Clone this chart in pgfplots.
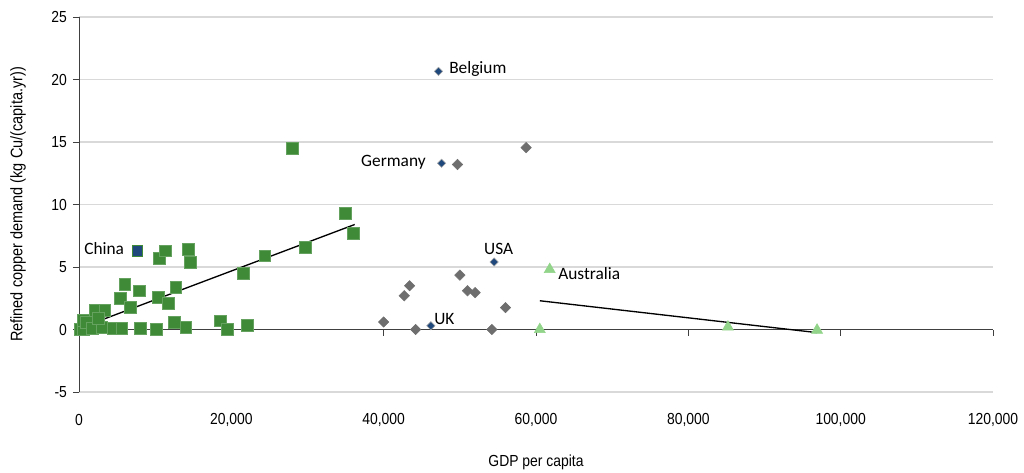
\documentclass[border=0pt]{standalone}
\usepackage{pgfplots}
\pgfplotsset{compat=1.18}
\usepackage{fontspec}
\setmainfont{Liberation Sans}[FakeStretch=0.87]
\newfontfamily\labfont{Carlito}
\definecolor{sqgreen}{RGB}{62,138,55}
\definecolor{dblue}{RGB}{31,73,125}
\definecolor{dgray}{RGB}{110,110,110}
\definecolor{lgreen}{RGB}{146,212,138}
\definecolor{gridc}{RGB}{217,217,217}
\definecolor{axc}{RGB}{64,64,64}
\begin{document}
\begin{tikzpicture}
\useasboundingbox (-59.25pt,-60pt) rectangle (708.75pt,294pt);
\begin{axis}[
  at={(0,0)}, anchor=south west,
  scale only axis, width=685.5pt, height=281.25pt,
  xmin=0, xmax=120000, ymin=-5, ymax=25,
  axis y line=left, axis x line=middle,
  axis line style={-, draw=axc, line width=0.6pt},
  hide obscured x ticks=false, hide obscured y ticks=false,
  xtick={0,20000,...,120000}, ytick={-5,0,...,25},
  scaled x ticks=false,
  x tick label style={/pgf/number format/1000 sep={,}, /pgf/number format/fixed},
  /pgf/number format/assume math mode=true,
  tick label style={font=\fontsize{12}{14}\selectfont},
  xticklabel style={anchor=center, yshift=-63pt},
  yticklabel style={anchor=east, xshift=-1pt},
  tick style={draw=axc, line width=0.6pt},
  ymajorgrids, grid style={gridc, line width=0.8pt},
  major tick length=4.5pt,
  tick align=outside,
  xlabel={GDP per capita},
  ylabel={Refined copper demand (kg Cu/(capita.yr))},
  every axis x label/.style={at={(axis description cs:0.5,-0.1867)}, anchor=center, font=\fontsize{12}{14}\selectfont},
  every axis y label/.style={at={(axis description cs:-0.0667,0.5)}, rotate=90, anchor=center, font=\fontsize{12.5}{14}\selectfont},
  clip=false,
]
% green squares
\addplot[only marks, mark=square*, mark size=4.4pt, mark options={fill=sqgreen, draw=sqgreen!80!white}] coordinates {
(100,0) (570,0) (600,0.75) (1000,0.6) (1700,0.1) (2100,1.55) (3000,0.2)
(3400,1.55) (2500,0.9) (4500,0.1) (5600,0.1) (5400,2.5) (6000,3.6)
(6700,1.8) (7900,3.1) (8000,0.1) (10100,0) (10400,2.6) (10500,5.7)
(11300,6.3) (11700,2.1) (12500,0.6) (12700,3.4) (14000,0.2) (14300,6.4)
(14600,5.4) (18500,0.7) (19500,0) (21600,4.5) (22100,0.35) (24400,5.9)
(28000,14.5) (29700,6.6) (35000,9.3) (36000,7.7)
};
% China
\addplot[only marks, mark=square*, mark size=3.8pt, mark options={fill=dblue, draw=sqgreen}] coordinates {(7700,6.3)};
% gray diamonds
\addplot[only marks, mark=square*, mark size=2.75pt, mark options={rotate=45, fill=dgray, draw=dgray}] coordinates {
(40000,0.6) (42700,2.7) (43400,3.5) (44200,0) (49700,13.2) (50000,4.35)
(51000,3.1) (52000,2.95) (54200,0) (56000,1.75) (58700,14.55)
};
% blue diamonds
\addplot[only marks, mark=square*, mark size=2.2pt, mark options={rotate=45, fill=dblue, draw=gray!70}] coordinates {
(47200,20.65) (47600,13.3) (54500,5.4) (46200,0.3)
};
% triangles
\addplot[only marks, mark=triangle*, mark size=4.8pt, mark options={fill=lgreen, draw=lgreen}] coordinates {
(60500,0) (61800,4.8) (85200,0.2) (96900,-0.05)
};
% trend lines
\addplot[black, line width=1pt] coordinates {(500,0.2) (36200,8.4)};
\addplot[black, line width=1pt] coordinates {(60500,2.3) (96900,-0.25)};
% labels
\begin{scope}[every node/.style={font=\labfont\fontsize{13}{15}\selectfont, anchor=west, inner sep=0pt}]
\node at (axis cs:660,6.51) {China};
\node at (axis cs:48580,20.83) {Belgium};
\node at (axis cs:37020,13.35) {Germany};
\node at (axis cs:53170,6.43) {USA};
\node at (axis cs:62890,4.51) {Australia};
\node at (axis cs:46610,0.83) {UK};
\end{scope}
\end{axis}
\end{tikzpicture}
\end{document}
